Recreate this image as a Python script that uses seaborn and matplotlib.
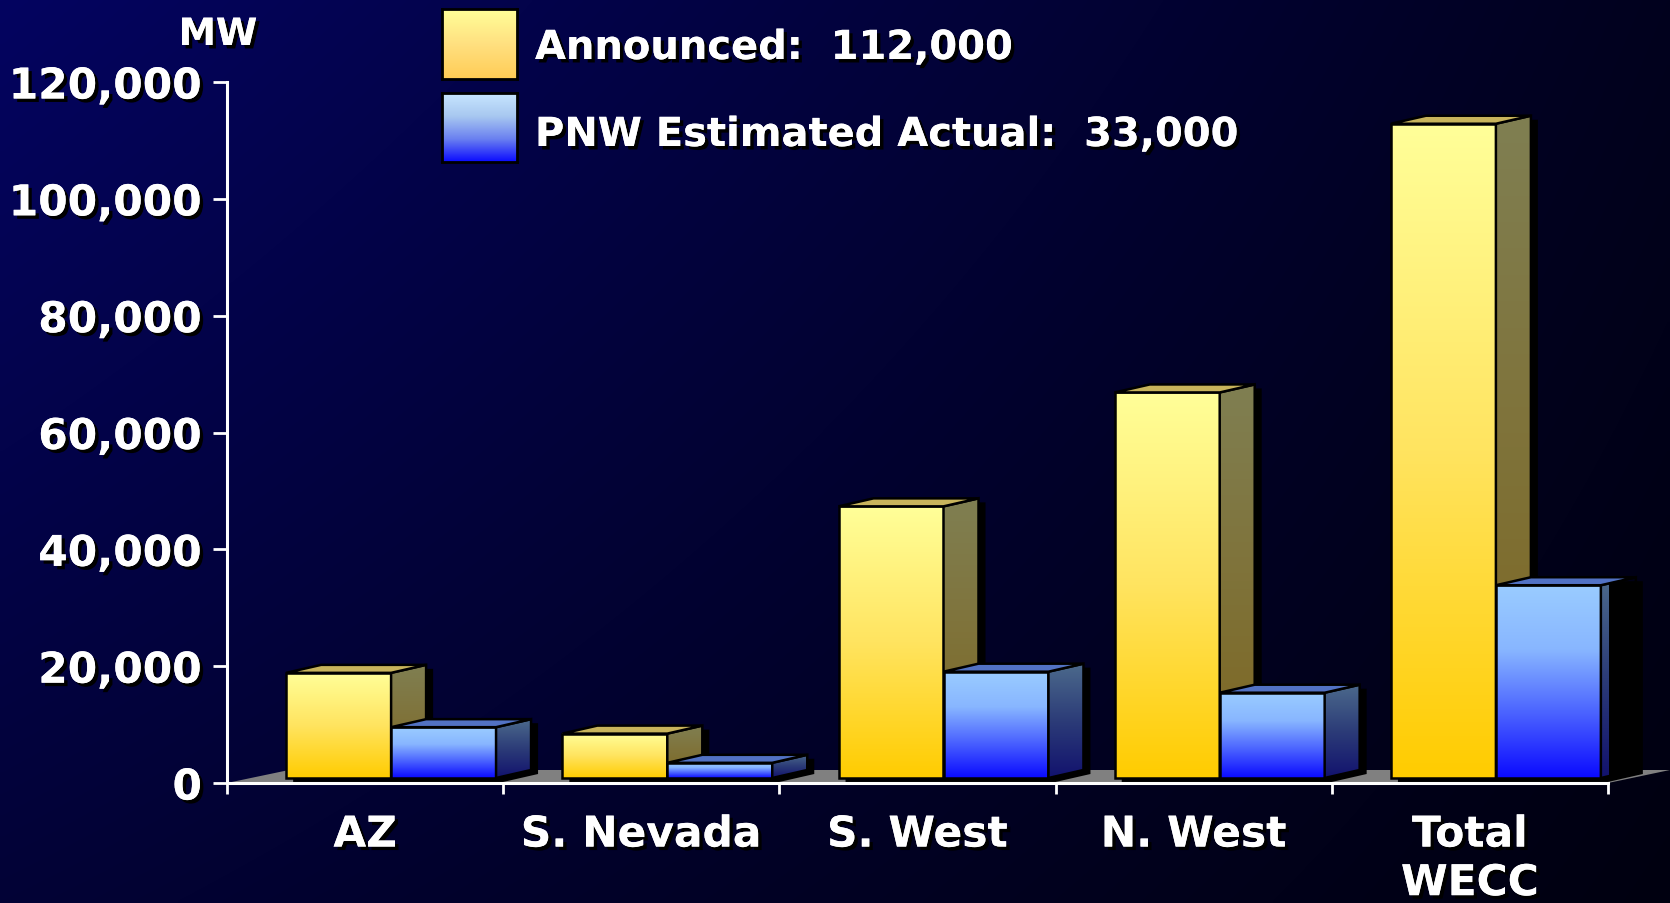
import numpy as np
import pandas as pd
import matplotlib
matplotlib.use("Agg")
import matplotlib.pyplot as plt
import seaborn as sns
from matplotlib.colors import LinearSegmentedColormap
from matplotlib.patches import Polygon
from matplotlib.transforms import Affine2D
import matplotlib.patheffects as pe

# ---------------- data ----------------
categories = ["AZ", "S. Nevada", "S. West", "N. West", "Total\nWECC"]
series_names = ["Announced", "PNW Estimated Actual"]
announced = [18000, 7600, 46500, 66000, 112000]
pnw_actual = [8700, 2600, 18200, 14600, 33000]
legend_labels = ["Announced:  112,000", "PNW Estimated Actual:  33,000"]
y_ticks = [0, 20000, 40000, 60000, 80000, 100000, 120000]
y_tick_labels = ["0", "20,000", "40,000", "60,000", "80,000", "100,000", "120,000"]
unit_label = "MW"

df = pd.DataFrame({
    "Region": categories * 2,
    "Series": [series_names[0]] * len(categories) + [series_names[1]] * len(categories),
    "MW": announced + pnw_actual,
})

# ---------------- style ----------------
W, H, DPI = 1670, 904, 100
sns.set_theme(style="white")
plt.rcParams["font.family"] = ["DejaVu Sans"]
plt.rcParams["font.weight"] = "bold"

fig = plt.figure(figsize=(W / DPI, H / DPI), dpi=DPI)
fig.patch.set_facecolor("#000030")

# background diagonal gradient
bg = fig.add_axes([0, 0, 1, 1], zorder=-10)
bg.axis("off")
yy, xx = np.mgrid[0:1:200j, 0:1:300j]
tl, tr, bl, br = 0x60, 0x1E, 0x36, 0x10
blue = (tl * (1 - xx) * (1 - yy) + tr * xx * (1 - yy) + bl * (1 - xx) * yy + br * xx * yy) / 255.0
rgb = np.dstack([blue * 0.04, blue * 0.04, blue])
bg.imshow(rgb, extent=(0, 1, 0, 1), origin="upper", aspect="auto", interpolation="bilinear")
bg.set_xlim(0, 1)
bg.set_ylim(0, 1)

shadow_fx = [pe.withSimplePatchShadow(offset=(2.5, -2.5), shadow_rgbFace="black", alpha=1.0), pe.Normal()]

# main axes
ax_left, ax_right, ax_top, ax_bot = 227, 1608, 83, 784
ax = fig.add_axes([ax_left / W, 1 - ax_bot / H, (ax_right - ax_left) / W, (ax_bot - ax_top) / H])
ax.set_facecolor("none")

sns.barplot(data=df, x="Region", y="MW", hue="Series", order=categories, hue_order=series_names,
            palette=dict(zip(series_names, ["#FFE04A", "#5A7CFF"])), width=0.76, saturation=1,
            errorbar=None, legend=False, ax=ax, edgecolor="black", linewidth=1.8)
ax.set_xlim(-0.5, len(categories) - 0.5)
ax.set_ylim(0, 120000)

ppx = (ax_right - ax_left) / len(categories)
ppy = (ax_bot - ax_top) / 120000.0
def px_x(p):
    return p / ppx
def px_y(p):
    return p / ppy

sx, sy = px_x(26), px_y(5)          # bars sit a little behind the front edge
dx, dy = px_x(35), px_y(8)          # 3-D depth
shx, shy = px_x(7), px_y(-4)        # drop shadow

front_cmaps = [
    LinearSegmentedColormap.from_list("yf", ["#FFCC00", "#FFE460", "#FFFF99"]),
    LinearSegmentedColormap.from_list("bf", ["#0A0AFF", "#4A62FF", "#88B6FF", "#9ACCFF"]),
]
side_cmaps = [
    LinearSegmentedColormap.from_list("ys", ["#7E6620", "#807F52"]),
    LinearSegmentedColormap.from_list("bs", ["#12126E", "#2C3C78", "#4C6A8C"]),
]
top_colors = ["#C8B45C", "#5272C4"]
grad = np.linspace(0, 1, 256).reshape(-1, 1)
LW = 1.8

# floor
fdx, fdy = px_x(62), px_y(13)
floor = Polygon([(-0.5, 0), (len(categories) - 0.5, 0), (len(categories) - 0.5 + fdx, fdy), (-0.5 + fdx, fdy)],
                closed=True, fc="#808080", ec="none", zorder=1, clip_on=False)
ax.add_patch(floor)

for i in range(len(categories)):
    for j, cont in enumerate(ax.containers):
        p = cont.patches[i]
        x0 = p.get_x() + sx
        x1 = x0 + p.get_width()
        y0 = p.get_y() + sy
        y1 = y0 + p.get_height()
        z = 3 + (i * 2 + j) * 0.1
        outline = [(x0, y0), (x0, y1), (x0 + dx, y1 + dy), (x1 + dx, y1 + dy), (x1 + dx, y0 + dy), (x1, y0)]
        ax.add_patch(Polygon([(x + shx, y + shy) for x, y in outline], closed=True, fc="black", ec="none",
                             zorder=z, clip_on=False))
        im = ax.imshow(grad, extent=(x0, x1, y0, y1), origin="lower", cmap=front_cmaps[j], aspect="auto",
                       zorder=z + 0.01, interpolation="bilinear")
        im.set_clip_on(False)
        p.set_transform(Affine2D().translate(sx, sy) + ax.transData)
        p.set_facecolor("none")
        p.set_edgecolor("black")
        p.set_linewidth(LW)
        p.set_zorder(z + 0.02)
        p.set_clip_on(False)
        side = Polygon([(x1, y0), (x1, y1), (x1 + dx, y1 + dy), (x1 + dx, y0 + dy)], closed=True, fc="none",
                       ec="black", lw=LW, zorder=z + 0.03, clip_on=False, joinstyle="miter")
        ax.add_patch(side)
        sim = ax.imshow(grad, extent=(x1, x1 + dx, y0, y1 + dy), origin="lower", cmap=side_cmaps[j],
                        aspect="auto", zorder=z + 0.025, interpolation="bilinear")
        sim.set_clip_box(None)
        sim.set_clip_path(side)
        top = Polygon([(x0, y1), (x1, y1), (x1 + dx, y1 + dy), (x0 + dx, y1 + dy)], closed=True,
                      fc=top_colors[j], ec="black", lw=LW, zorder=z + 0.04, clip_on=False, joinstyle="miter")
        ax.add_patch(top)

ax.set_xlim(-0.5, len(categories) - 0.5)
ax.set_ylim(0, 120000)

# axes styling
for s in ["top", "right"]:
    ax.spines[s].set_visible(False)
for s in ["left", "bottom"]:
    ax.spines[s].set_color("white")
    ax.spines[s].set_linewidth(2.2)
    ax.spines[s].set_zorder(20)

ax.set_yticks(y_ticks, y_tick_labels)
ax.set_xticks(range(len(categories)), categories)
ax.set_xticks(np.arange(-0.5, len(categories), 1.0), minor=True)
ax.tick_params(axis="y", which="major", left=True, direction="out", length=10, width=2, color="white",
               labelcolor="white", labelsize=30.5, pad=8)
ax.tick_params(axis="x", which="major", bottom=True, length=0, labelcolor="white", labelsize=30.5, pad=22)
ax.tick_params(axis="x", which="minor", bottom=True, direction="out", length=8, width=2, color="white")
ax.set_xlabel("")
ax.set_ylabel("")
for lbl in ax.get_xticklabels() + ax.get_yticklabels():
    lbl.set_fontweight("bold")
    lbl.set_path_effects(shadow_fx)

# unit label
fig.text(218 / W, 1 - 46 / H, unit_label, ha="center", va="baseline", color="white", fontsize=27,
         fontweight="bold", path_effects=shadow_fx)

# legend (manual)
legend_cmaps = [
    LinearSegmentedColormap.from_list("yl", ["#FFCC55", "#FFE080", "#FFFF99"]),
    LinearSegmentedColormap.from_list("bl", ["#0A0AFF", "#6A80F0", "#A8C8F0", "#C8E6FF"]),
]
sw_boxes = [(442, 10, 517, 80), (442, 94, 517, 163)]
baselines = [60, 147]
for k in range(len(series_names)):
    x_a, y_a, x_b, y_b = sw_boxes[k]
    lax = fig.add_axes([x_a / W, 1 - y_b / H, (x_b - x_a) / W, (y_b - y_a) / H])
    lax.imshow(grad, extent=(0, 1, 0, 1), origin="lower", cmap=legend_cmaps[k], aspect="auto")
    lax.set_xticks([])
    lax.set_yticks([])
    for s in lax.spines.values():
        s.set_visible(True)
        s.set_color("black")
        s.set_linewidth(2)
    fig.text(535 / W, 1 - baselines[k] / H, legend_labels[k], ha="left", va="baseline", color="white",
             fontsize=28.8, fontweight="bold", path_effects=shadow_fx)

fig.savefig("out.png", dpi=DPI, facecolor=fig.get_facecolor())
